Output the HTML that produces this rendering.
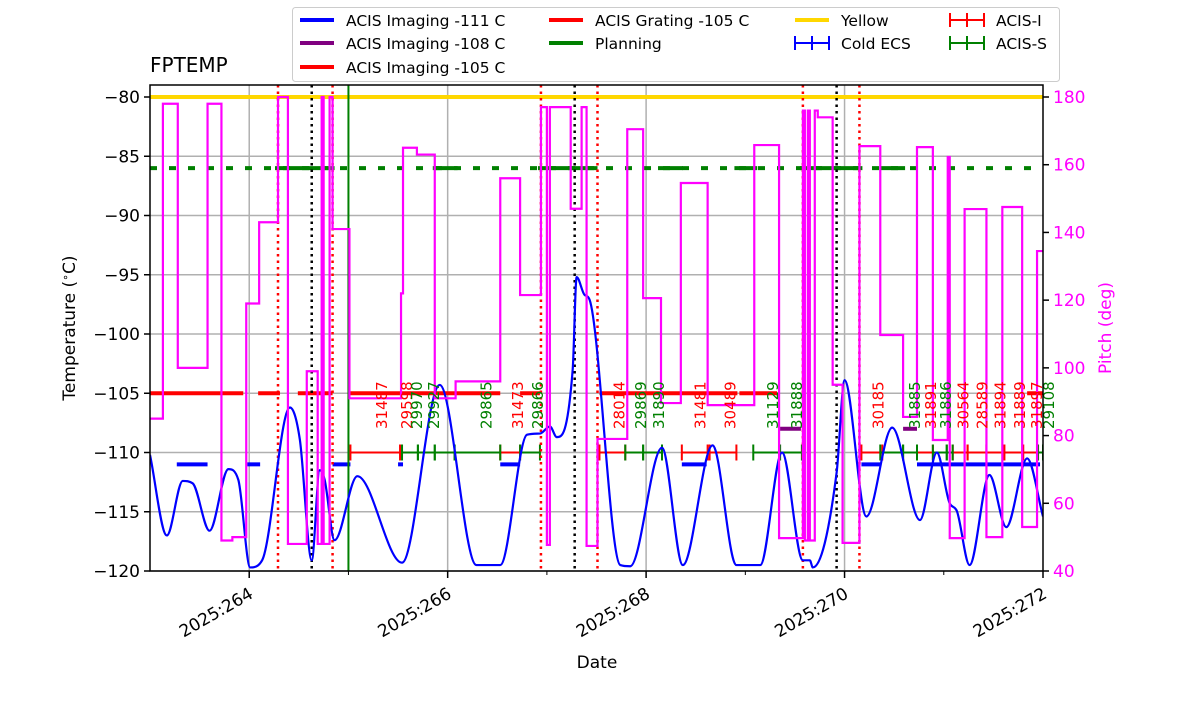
<!DOCTYPE html>
<html><head><meta charset="utf-8"><style>
body{margin:0;background:#fff;}
svg{font-family:"DejaVu Sans","Liberation Sans",sans-serif;}
</style></head><body>
<svg id="chart" width="1200" height="714" viewBox="0 0 1200 714">
<defs><clipPath id="plotclip"><rect x="150" y="85" width="893" height="486"/></clipPath></defs>
<g id="grid"></g>
<g id="marks" clip-path="url(#plotclip)"></g>
<g id="labels"></g>
<g id="axes"></g>
<text x="150" y="72" font-size="20">FPTEMP</text>
<text x="597" y="668" font-size="17" text-anchor="middle">Date</text>
<text transform="translate(75,328) rotate(-90)" font-size="17" text-anchor="middle">Temperature (<tspan baseline-shift="super" font-size="11">∘</tspan>C)</text>
<text transform="translate(1111,328) rotate(-90)" font-size="17" text-anchor="middle" fill="#ff00ff">Pitch (deg)</text>
<g id="legend"></g>
</svg>
<script>
// ---- data ----
const xTickDays = [264, 266, 268, 270, 272];
const xTickLabels = ["2025:264", "2025:266", "2025:268", "2025:270", "2025:272"];
const xMinorDays = [265, 267, 269, 271];
const yTicks = [-80, -85, -90, -95, -100, -105, -110, -115, -120];
const pitchTicks = [40, 60, 80, 100, 120, 140, 160, 180];
const tempDays = [263.00,263.17,263.33,263.43,263.60,263.79,263.89,264.01,264.13,264.41,264.51,264.63,264.71,264.76,264.86,265.09,265.54,265.92,266.29,266.53,266.80,266.93,267.03,267.10,267.26,267.30,267.38,267.43,267.74,267.84,268.16,268.37,268.67,268.91,269.15,269.37,269.58,269.65,269.68,269.92,270.00,270.22,270.48,270.76,270.93,271.06,271.13,271.26,271.46,271.63,271.84,272.00];
const tempValues = [-110.2,-117.0,-112.4,-112.6,-116.6,-111.4,-112.3,-119.7,-119.1,-106.2,-108.9,-119.1,-111.5,-112.3,-117.4,-112.0,-119.3,-104.3,-119.5,-119.5,-108.5,-108.4,-107.8,-108.7,-103.0,-95.2,-96.7,-97.1,-119.5,-119.6,-109.6,-119.5,-109.4,-119.5,-119.5,-110.0,-119.1,-119.1,-119.7,-111.7,-103.9,-115.4,-107.9,-115.7,-110.0,-114.3,-114.9,-119.5,-111.9,-116.3,-110.5,-115.4];
const pitchDays = [263.00,263.13,263.28,263.58,263.72,263.83,263.97,264.10,264.29,264.39,264.58,264.69,264.73,264.75,264.81,264.84,265.01,265.53,265.55,265.69,265.87,266.08,266.53,266.73,266.94,267.00,267.03,267.24,267.35,267.40,267.51,267.81,267.97,268.15,268.35,268.62,269.09,269.34,269.58,269.60,269.63,269.65,269.70,269.73,269.88,269.98,270.15,270.36,270.59,270.73,270.89,271.04,271.06,271.21,271.43,271.59,271.79,271.94];
const pitchValues = [85,178,100,178,49,50,119,143,180,48,99,48,180,48,180,141,91,122,165,163,91,96,156,121.5,177,47.7,177,147,177,47.4,79,170.5,120.6,89.6,154.6,89,165.8,49.7,176,49,176,49,176,174,95,48.3,165.5,109.7,85.5,165.2,78.7,162.3,49.7,146.9,50,147.5,53,134.5];
const limit111Start = [263.27,263.98,264.84,265.50,266.53,268.36,270.17,270.73];
const limit111End = [263.58,264.11,265.02,265.55,266.73,268.61,270.36,271.97];
const limit108Start = [269.35,270.59];
const limit108End = [269.56,270.73];
const limit105Start = [263.00,264.09,264.49,265.02,266.73,267.53,268.94,271.84];
const limit105End = [263.94,264.31,264.84,266.53,266.93,268.92,269.32,272.00];
const planSolidStart = [264.26,265.85,266.91,268.12,268.89,269.55,270.36];
const planSolidEnd = [264.86,266.10,267.51,268.37,269.12,270.18,270.61];
const acisIStart = [265.02,266.53,267.53,268.36,268.64,270.17,270.73,271.09,271.24,271.43,271.61,271.80];
const acisIEnd = [265.52,266.73,267.79,268.62,268.91,270.38,270.89,271.24,271.43,271.61,271.80,271.95];
const acisSStart = [265.54,265.70,265.87,266.07,266.73,267.79,267.97,269.08,269.35,270.36,270.59,270.89,271.03,271.95];
const acisSEnd = [265.70,265.87,266.07,266.53,266.93,267.97,268.16,269.35,269.57,270.59,270.73,271.03,271.09,272.00];
const obsidDays = [265.33,265.58,266.70,267.72,268.54,268.84,270.33,270.86,271.19,271.38,271.56,271.76,271.93,265.68,265.85,266.38,266.90,267.94,268.12,269.27,269.51,270.70,271.01,272.05];
const obsidLabels = ["31487","29598","31473","28014","31481","30489","30185","31891","30564","28589","31894","31889","31897","29970","29927","29865","29866","29869","31890","31129","31888","31885","31886","29108"];
const obsidIsI = [1,1,1,1,1,1,1,1,1,1,1,1,1,0,0,0,0,0,0,0,0,0,0,0];
const redLineDays = [264.29,264.84,266.94,267.51,269.58,270.15];
const blackLineDays = [264.63,267.28,269.92];
const greenLineDays = [265.00];

// ---- scales ----
const X0=150, X1=1043, YT=85, YB=571;
const xs = d => X0 + (d-263)*(X1-X0)/9;
const ys = t => 97 + (-80 - t)*(474/40);
const yp = p => 571 - (p-40)*(474/140);
const NS="http://www.w3.org/2000/svg";
function mk(tag, attrs, parent){const e=document.createElementNS(NS,tag);for(const k in attrs)e.setAttribute(k,attrs[k]);parent.appendChild(e);return e;}
const grid=document.getElementById('grid'), marks=document.getElementById('marks'), axes=document.getElementById('axes'), legend=document.getElementById('legend'), labels=document.getElementById('labels');

// grid
xTickDays.slice(0,4).forEach(d=>{const l=mk('line',{x1:xs(d),x2:xs(d),y1:YT,y2:YB,stroke:'#b0b0b0','stroke-width':1.5},grid);

});
yTicks.forEach(t=>{const l=mk('line',{x1:X0,x2:X1,y1:ys(t),y2:ys(t),stroke:'#b0b0b0','stroke-width':1.5},grid);

});

let e=mk('line',{x1:X0,x2:X1,y1:ys(-80),y2:ys(-80),stroke:'#ffd700','stroke-width':4},marks);


e=mk('line',{x1:X0,x2:X1,y1:ys(-86),y2:ys(-86),stroke:'#008000','stroke-width':4,'stroke-dasharray':'7 12'},marks);


planSolidStart.forEach((s,i)=>{const l=mk('line',{x1:xs(s),x2:xs(planSolidEnd[i]),y1:ys(-86),y2:ys(-86),stroke:'#008000','stroke-width':4},marks);

});
function segs(st,en,t,color,name){st.forEach((s,i)=>{const l=mk('line',{x1:xs(s),x2:xs(en[i]),y1:ys(t),y2:ys(t),stroke:color,'stroke-width':4},marks);

});}
segs(limit105Start,limit105End,-105,'#ff0000','limit-105-segment');
segs(limit111Start,limit111End,-111,'#0000ff','limit-111-segment');
segs(limit108Start,limit108End,-108,'#800080','limit-108-segment');
function ebar(st,en,color,name){st.forEach((s,i)=>{const g=mk('g',{stroke:color,'stroke-width':2},marks);


const y=ys(-110);mk('line',{x1:xs(s),x2:xs(en[i]),y1:y,y2:y},g);
mk('line',{x1:xs(s),x2:xs(s),y1:y-8,y2:y+8},g);mk('line',{x1:xs(en[i]),x2:xs(en[i]),y1:y-8,y2:y+8},g);});}
ebar(acisIStart,acisIEnd,'#ff0000','acis-i-interval');
ebar(acisSStart,acisSEnd,'#008000','acis-s-interval');
function vlines(arr,color,dash,name,w){arr.forEach(d=>{const l=mk('line',{x1:xs(d),x2:xs(d),y1:YT,y2:YB,stroke:color,'stroke-width':w,'stroke-dasharray':dash},marks);

});}
vlines(redLineDays,'#ff0000','2.5 4','red-dotted-marker',2.5);
vlines(blackLineDays,'#000','2.5 4','black-dotted-marker',2.5);
vlines(greenLineDays,'#008000','none','green-marker',2);
obsidDays.forEach((d,i)=>{const t=mk('text',{transform:`translate(${xs(d)+6},429) rotate(-90)`,'font-size':15,fill:obsidIsI[i]?'#ff0000':'#008000'},labels);t.textContent=obsidLabels[i];

});

// temperature curve: monotone cubic (no overshoot)
const P=tempDays.map((d,i)=>[xs(d),ys(tempValues[i])]);
const n=P.length, dk=[], m=new Array(n);
for(let i=0;i<n-1;i++)dk.push((P[i+1][1]-P[i][1])/(P[i+1][0]-P[i][0]));
m[0]=dk[0];m[n-1]=dk[n-2];
for(let i=1;i<n-1;i++){m[i]=(dk[i-1]*dk[i]<=0)?0:(dk[i-1]+dk[i])/2;}
for(let i=0;i<n-1;i++){if(dk[i]===0){m[i]=0;m[i+1]=0;continue;}const a=m[i]/dk[i],b=m[i+1]/dk[i],s=a*a+b*b;if(s>9){const t=3/Math.sqrt(s);m[i]=t*a*dk[i];m[i+1]=t*b*dk[i];}}
let dStr=`M${P[0][0]},${P[0][1]}`;
for(let i=0;i<n-1;i++){const h=(P[i+1][0]-P[i][0])/3;
dStr+=` C${P[i][0]+h},${P[i][1]+m[i]*h} ${P[i+1][0]-h},${P[i+1][1]-m[i+1]*h} ${P[i+1][0]},${P[i+1][1]}`;}
e=mk('path',{d:dStr,fill:'none',stroke:'#0000ff','stroke-width':2.2},marks);


let pStr=`M${xs(pitchDays[0])},${yp(pitchValues[0])}`;
for(let i=1;i<pitchDays.length;i++){pStr+=` H${xs(pitchDays[i])} V${yp(pitchValues[i])}`;}
pStr+=` H${X1}`;
e=mk('path',{d:pStr,fill:'none',stroke:'#ff00ff','stroke-width':2.2},marks);



e=mk('rect',{x:X0,y:YT,width:X1-X0,height:YB-YT,fill:'none',stroke:'#000','stroke-width':1.5},axes);


yTicks.forEach(t=>{mk('line',{x1:X0-6,x2:X0,y1:ys(t),y2:ys(t),stroke:'#000','stroke-width':1.5},axes);
const tx=mk('text',{x:X0-10,y:ys(t)+6,'font-size':17,'text-anchor':'end'},axes);tx.textContent=String(t).replace('-','\u2212');

});
pitchTicks.forEach(p=>{mk('line',{x1:X1,x2:X1+6,y1:yp(p),y2:yp(p),stroke:'#000','stroke-width':1.5},axes);
const tx=mk('text',{x:X1+10,y:yp(p)+6,'font-size':17,fill:'#ff00ff'},axes);tx.textContent=p;

});
xTickDays.forEach((d,i)=>{mk('line',{x1:xs(d),x2:xs(d),y1:YB,y2:YB+7,stroke:'#000','stroke-width':1.5},axes);
const tx=mk('text',{transform:`translate(${xs(d)+5},${YB+26}) rotate(-30)`,'font-size':17,'text-anchor':'end'},axes);tx.textContent=xTickLabels[i];

});
xMinorDays.forEach(d=>{mk('line',{x1:xs(d),x2:xs(d),y1:YB,y2:YB+4,stroke:'#000','stroke-width':1},axes);});

e=mk('rect',{x:292.5,y:7.5,width:767,height:74,rx:3,fill:'#fff',stroke:'#ccc','stroke-width':1},legend);


const legItems=[[300,20,'#0000ff','ACIS Imaging -111 C',0],[300,43,'#800080','ACIS Imaging -108 C',0],[300,67,'#ff0000','ACIS Imaging -105 C',0],
[549,20,'#ff0000','ACIS Grating -105 C',0],[549,43,'#008000','Planning',0],
[795,20,'#ffd700','Yellow',0],[795,43,'#0000ff','Cold ECS',1],
[950,20,'#ff0000','ACIS-I',1],[950,43,'#008000','ACIS-S',1]];
legItems.forEach(it=>{const g=mk('g',{},legend);


mk('line',{x1:it[0],x2:it[0]+34,y1:it[1],y2:it[1],stroke:it[2],'stroke-width':it[4]?2:4},g);
if(it[4]){mk('line',{x1:it[0],x2:it[0],y1:it[1]-7,y2:it[1]+7,stroke:it[2],'stroke-width':2},g);mk('line',{x1:it[0]+34,x2:it[0]+34,y1:it[1]-7,y2:it[1]+7,stroke:it[2],'stroke-width':2},g);mk('line',{x1:it[0]+17,x2:it[0]+17,y1:it[1]-7,y2:it[1]+7,stroke:it[2],'stroke-width':2},g);}
const t=mk('text',{x:it[0]+46,y:it[1]+6,'font-size':15.5},g);t.textContent=it[3];});
</script>
</body></html>
